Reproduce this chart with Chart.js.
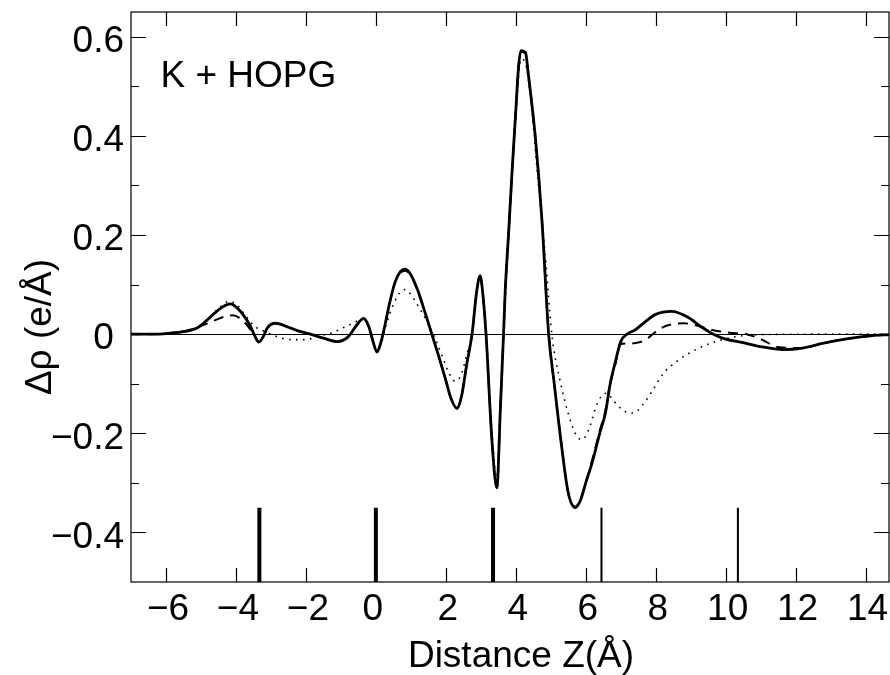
<!DOCTYPE html>
<html>
<head>
<meta charset="utf-8">
<script src="https://cdn.jsdelivr.net/npm/chart.js@4.4.1/dist/chart.umd.min.js"></script>
<style>
  html, body { margin: 0; padding: 0; background: #fff; }
  canvas { display: block; }
</style>
</head>
<body>
<canvas id="rhoChart" width="890" height="675"></canvas>
<script>
// axis ranges and ticks
const xMin = -7, xMax = 14.67;
const yMin = -0.5, yMax = 0.65;
const xTicks = [-6, -4, -2, 0, 2, 4, 6, 8, 10, 12, 14];
const yTicks = [-0.4, -0.2, 0, 0.2, 0.4, 0.6];
const yMinorTicks = [-0.3, -0.1, 0.1, 0.3, 0.5];

// solid curve
const zSolid = [-7, -6.4, -5.9, -5.5, -5.1, -4.8, -4.6, -4.4, -4.16, -3.95, -3.78, -3.6, -3.45, -3.35, -3.22, -3.1, -2.87, -2.5, -2.2, -1.87, -1.5, -1.1, -0.8, -0.55, -0.35, -0.2, -0.08, 0.03, 0.13, 0.25, 0.4, 0.55, 0.7, 0.84, 1.0, 1.2, 1.4, 1.6, 1.8, 2.0, 2.15, 2.32, 2.45, 2.6, 2.75, 2.88, 2.98, 3.06, 3.15, 3.32, 3.46, 3.56, 3.65, 3.7, 3.8, 3.9, 4.0, 4.08, 4.15, 4.28, 4.35, 4.45, 4.56, 4.75, 4.94, 5.1, 5.3, 5.5, 5.7, 5.85, 6.0, 6.2, 6.4, 6.56, 6.7, 6.85, 7.0, 7.18, 7.4, 7.7, 8.0, 8.46, 8.9, 9.3, 9.65, 10.0, 10.5, 11.0, 11.65, 12.2, 12.8, 13.5, 14.2, 14.67];
const rhoSolid = [0, 0, 0.002, 0.005, 0.013, 0.03, 0.043, 0.054, 0.061, 0.052, 0.038, 0.018, -0.005, -0.016, -0.005, 0.013, 0.022, 0.014, 0.006, 0, -0.008, -0.015, -0.006, 0.018, 0.032, 0.015, -0.015, -0.036, -0.02, 0.015, 0.065, 0.105, 0.126, 0.131, 0.12, 0.088, 0.045, 0, -0.045, -0.093, -0.13, -0.15, -0.125, -0.06, 0, 0.085, 0.118, 0.08, 0, -0.216, -0.31, -0.15, 0, 0.09, 0.21, 0.335, 0.45, 0.54, 0.572, 0.568, 0.53, 0.47, 0.397, 0.228, 0, -0.1, -0.22, -0.32, -0.35, -0.335, -0.3, -0.255, -0.2, -0.16, -0.1, -0.055, -0.015, 0, 0.008, 0.025, 0.04, 0.046, 0.035, 0.015, 0, -0.01, -0.017, -0.025, -0.031, -0.028, -0.018, -0.009, -0.003, -0.001];

// dashed curve
const zDashed = [-7, -6.4, -5.9, -5.5, -5.1, -4.8, -4.5, -4.3, -4.1, -3.9, -3.7, -3.5, -3.35, -3.22, -3.1, -2.87, -2.5, -2.2, -1.87, -1.5, -1.1, -0.8, -0.55, -0.35, -0.2, -0.08, 0.03, 0.13, 0.25, 0.4, 0.55, 0.7, 0.84, 1.0, 1.2, 1.4, 1.6, 1.8, 2.0, 2.15, 2.32, 2.45, 2.6, 2.75, 2.88, 2.98, 3.06, 3.15, 3.32, 3.46, 3.56, 3.65, 3.7, 3.8, 3.9, 4.0, 4.08, 4.15, 4.28, 4.35, 4.45, 4.56, 4.75, 4.94, 5.1, 5.3, 5.5, 5.7, 5.85, 6.0, 6.2, 6.4, 6.56, 6.7, 6.85, 7.0, 7.2, 7.5, 7.7, 7.85, 8.1, 8.4, 8.8, 9.2, 9.65, 10.1, 10.6, 11.0, 11.5, 12.2, 12.8, 13.5, 14.2, 14.67];
const rhoDashed = [0, 0, 0.002, 0.006, 0.014, 0.022, 0.031, 0.036, 0.038, 0.033, 0.02, 0, -0.016, -0.005, 0.013, 0.022, 0.014, 0.006, 0, -0.008, -0.015, -0.006, 0.018, 0.032, 0.015, -0.015, -0.036, -0.02, 0.015, 0.065, 0.105, 0.124, 0.128, 0.118, 0.087, 0.045, 0, -0.045, -0.093, -0.13, -0.148, -0.125, -0.06, 0, 0.085, 0.116, 0.08, 0, -0.216, -0.31, -0.15, 0, 0.09, 0.21, 0.335, 0.45, 0.54, 0.57, 0.566, 0.53, 0.47, 0.397, 0.228, 0, -0.1, -0.22, -0.32, -0.348, -0.333, -0.3, -0.25, -0.195, -0.155, -0.1, -0.06, -0.02, -0.019, -0.017, -0.012, -0.004, 0.01, 0.019, 0.022, 0.017, 0.008, 0.003, 0, -0.01, -0.026, -0.028, -0.018, -0.009, -0.003, -0.001];

// dotted curve
const zDotted = [-7, -6, -5.5, -5.1, -4.8, -4.5, -4.2, -3.95, -3.75, -3.5, -3.2, -3.0, -2.7, -2.4, -2.0, -1.7, -1.4, -1.2, -0.9, -0.63, -0.4, -0.25, -0.08, 0.03, 0.15, 0.3, 0.5, 0.7, 0.84, 1.0, 1.2, 1.46, 1.7, 1.9, 2.1, 2.27, 2.45, 2.6, 2.75, 2.88, 2.98, 3.06, 3.15, 3.32, 3.46, 3.56, 3.65, 3.8, 4.0, 4.15, 4.3, 4.45, 4.65, 4.84, 5.03, 5.27, 5.5, 5.7, 5.89, 6.1, 6.3, 6.45, 6.6, 6.8, 6.99, 7.2, 7.37, 7.6, 7.9, 8.2, 8.6, 9.18, 9.75, 10.4, 11.0, 12.5, 14.67];
const rhoDotted = [0, 0.001, 0.005, 0.014, 0.032, 0.052, 0.066, 0.058, 0.04, 0.018, 0.006, 0, -0.008, -0.011, -0.011, -0.005, 0, 0.004, 0.014, 0.023, 0.03, 0.02, -0.015, -0.035, -0.02, 0.02, 0.06, 0.085, 0.09, 0.08, 0.058, 0.026, -0.01, -0.045, -0.08, -0.095, -0.08, -0.04, 0, 0.085, 0.115, 0.08, 0, -0.2, -0.29, -0.14, 0, 0.2, 0.44, 0.555, 0.54, 0.46, 0.3, 0.162, 0, -0.095, -0.16, -0.2, -0.213, -0.19, -0.145, -0.125, -0.119, -0.135, -0.149, -0.158, -0.159, -0.145, -0.115, -0.081, -0.055, -0.03, -0.014, -0.004, -0.001, 0, 0];

// layer markers at the bottom
const layerThick = [-3.33, 0, 3.35];
const layerThin = [6.45, 10.35];
const markerTop = -0.35;

const fontFamily = '"Liberation Sans", Arial, Helvetica, sans-serif';

function toPoints(xs, ys) {
    return xs.map((x, i) => ({ x: x, y: ys[i] }));
}

function markerPoints(list) {
    const pts = [];
    list.forEach(z => {
        pts.push({ x: z, y: yMin });
        pts.push({ x: z, y: markerTop });
        pts.push({ x: z, y: null });
    });
    return pts;
}

function fmtTick(v) {
    if (Math.abs(v) < 1e-9) return '0 ';
    const s = Math.abs(v).toString();
    return v < 0 ? '\u2212' + s : s;
}

// frame, inward ticks and free text
const framePlugin = {
    id: 'framePlugin',
    afterDraw(chart) {
        const { ctx, chartArea: a, scales } = chart;
        const xs = scales.x, ys = scales.y;
        ctx.save();
        ctx.strokeStyle = '#000';
        ctx.lineWidth = 1.2;
        ctx.strokeRect(a.left, a.top, a.right - a.left, a.bottom - a.top);

        ctx.lineWidth = 1.2;
        ctx.beginPath();
        xTicks.forEach(v => {
            const px = Math.round(xs.getPixelForValue(v)) + 0.5;
            ctx.moveTo(px, a.bottom); ctx.lineTo(px, a.bottom - 14);
            ctx.moveTo(px, a.top); ctx.lineTo(px, a.top + 14);
        });
        yTicks.forEach(v => {
            const py = Math.round(ys.getPixelForValue(v)) + 0.5;
            ctx.moveTo(a.left, py); ctx.lineTo(a.left + 15, py);
            ctx.moveTo(a.right, py); ctx.lineTo(a.right - 15, py);
        });
        yMinorTicks.forEach(v => {
            const py = Math.round(ys.getPixelForValue(v)) + 0.5;
            ctx.moveTo(a.left, py); ctx.lineTo(a.left + 8, py);
            ctx.moveTo(a.right, py); ctx.lineTo(a.right - 8, py);
        });
        ctx.stroke();

        ctx.fillStyle = '#000';
        ctx.font = '37px ' + fontFamily;
        ctx.textAlign = 'left';
        ctx.textBaseline = 'alphabetic';
        ctx.fillText('K + HOPG', 160.5, 86.5);

        ctx.textAlign = 'center';
        ctx.fillText('Distance Z(\u00c5)', 521, 667);

        ctx.translate(51, 327);
        ctx.rotate(-Math.PI / 2);
        ctx.fillText('\u0394\u03c1 (e/\u00c5)', 0, 0);
        ctx.restore();
    }
};

const chart = new Chart(document.getElementById('rhoChart'), {
    type: 'line',
    data: {
        datasets: [
            {
                label: 'solid',
                data: toPoints(zSolid, rhoSolid),
                borderColor: '#000',
                borderWidth: 2.8,
                cubicInterpolationMode: 'monotone',
                pointRadius: 0,
            },
            {
                label: 'dashed',
                data: toPoints(zDashed, rhoDashed),
                borderColor: '#000',
                borderWidth: 2,
                borderDash: [10, 7],
                cubicInterpolationMode: 'monotone',
                pointRadius: 0,
            },
            {
                label: 'dotted',
                data: toPoints(zDotted, rhoDotted),
                borderColor: '#000',
                borderWidth: 1.6,
                borderDash: [1.6, 5.4],
                cubicInterpolationMode: 'monotone',
                pointRadius: 0,
            },
            {
                label: 'layers',
                data: markerPoints(layerThick),
                borderColor: '#000',
                borderWidth: 4,
                borderCapStyle: 'butt',
                spanGaps: false,
                pointRadius: 0,
            },
            {
                label: 'layers2',
                data: markerPoints(layerThin),
                borderColor: '#000',
                borderWidth: 2,
                borderCapStyle: 'butt',
                spanGaps: false,
                pointRadius: 0,
            },
        ],
    },
    options: {
        responsive: false,
        animation: false,
        layout: { padding: { top: 12, right: 1, left: 0, bottom: 0 } },
        plugins: {
            legend: { display: false },
            tooltip: { enabled: false },
        },
        scales: {
            x: {
                type: 'linear',
                min: xMin,
                max: xMax,
                offset: false,
                afterBuildTicks: scale => { scale.ticks = xTicks.map(v => ({ value: v })); },
                afterFit: scale => {
                    scale.height = 93;
                    scale.paddingLeft = 0;
                    scale.paddingRight = 0;
                },
                border: { display: false },
                grid: { display: false, drawTicks: false },
                ticks: {
                    color: '#000',
                    font: { family: fontFamily, size: 37 },
                    padding: 6,
                    labelOffset: 2,
                    maxRotation: 0,
                    autoSkip: false,
                    callback: v => fmtTick(v),
                },
            },
            y: {
                type: 'linear',
                min: yMin,
                max: yMax,
                afterBuildTicks: scale => { scale.ticks = yTicks.map(v => ({ value: v })); },
                afterFit: scale => {
                    scale.width = 131;
                    scale.paddingTop = 0;
                    scale.paddingBottom = 0;
                },
                border: { display: false },
                grid: {
                    drawTicks: false,
                    color: c => (c.tick && Math.abs(c.tick.value) < 1e-9 ? '#000' : 'rgba(0,0,0,0)'),
                    lineWidth: 1,
                },
                ticks: {
                    color: '#000',
                    font: { family: fontFamily, size: 37 },
                    padding: 7,
                    labelOffset: 5,
                    autoSkip: false,
                    callback: v => fmtTick(v),
                },
            },
        },
    },
    plugins: [framePlugin],
});
</script>
</body>
</html>
